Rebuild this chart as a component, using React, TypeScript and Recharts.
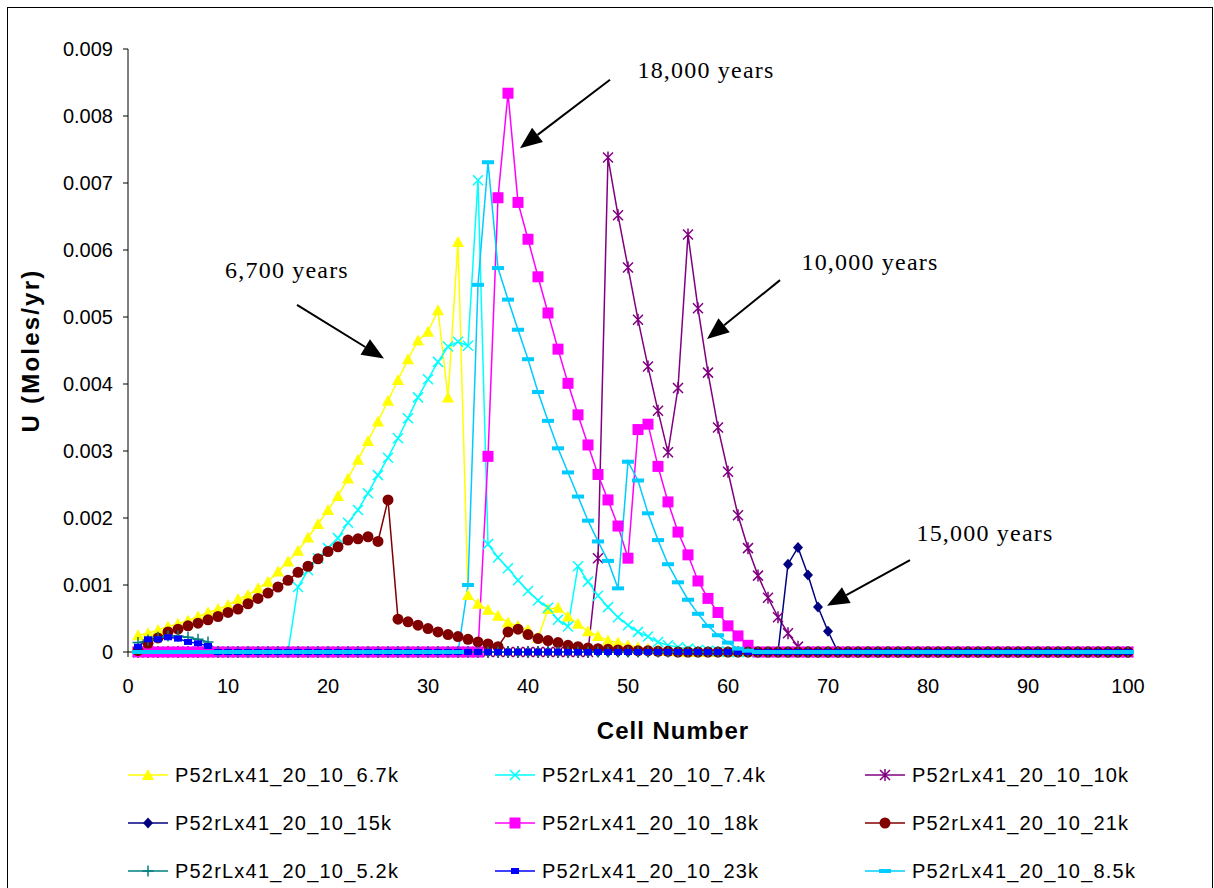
import React from "react";
import {
  LineChart,
  Line,
  XAxis,
  YAxis,
  Legend,
  ReferenceLine,
  ReferenceDot,
} from "recharts";

// cell numbers along the column
const cells = Array.from({ length: 100 }, (_, i) => i + 1);

const xTicks = [0, 10, 20, 30, 40, 50, 60, 70, 80, 90, 100];
const yTicks = [0, 0.001, 0.002, 0.003, 0.004, 0.005, 0.006, 0.007, 0.008, 0.009];

// U (Moles/yr) per cell
const u67k = [
  0.00025, 0.00028, 0.00033, 0.00038, 0.00042, 0.00047, 0.00053, 0.00059, 0.00064, 0.0007,
  0.00079, 0.00085, 0.00095, 0.00105, 0.0012, 0.00135, 0.00151, 0.00171, 0.00191, 0.00212,
  0.00233, 0.00259, 0.00287, 0.00315, 0.00344, 0.00375, 0.00406, 0.00437, 0.00465, 0.00478,
  0.0051, 0.0038, 0.00612, 0.00085, 0.00072, 0.00063, 0.00054, 0.00044, 0.00039, 0.00033,
  0.00021, 0.00064, 0.00066, 0.00053, 0.00042, 0.00031, 0.00024, 0.00017, 0.00014, 0.0001,
  0.00007, 0.00005, 0.00003, 0.00002, 0.00001, 0, 0, 0, 0, 0,
  0, 0, 0, 0, 0, 0, 0, 0, 0, 0,
  0, 0, 0, 0, 0, 0, 0, 0, 0, 0,
  0, 0, 0, 0, 0, 0, 0, 0, 0, 0,
  0, 0, 0, 0, 0, 0, 0, 0, 0, 0,
];

const u74k = [
  0, 0, 0, 0, 0, 0, 0, 0, 0, 0,
  0, 0, 0, 0, 0, 0, 0.00097, 0.00122, 0.0014, 0.00155,
  0.0017, 0.00193, 0.00212, 0.00237, 0.00264, 0.0029, 0.00319, 0.00349, 0.0038, 0.00407,
  0.00433, 0.00456, 0.00463, 0.00457, 0.00704, 0.00161, 0.00141, 0.00125, 0.00107, 0.00091,
  0.00077, 0.00066, 0.00048, 0.00038, 0.00128, 0.00105, 0.00084, 0.00067, 0.00052, 0.0004,
  0.0003, 0.00023, 0.00015, 0.0001, 0.00007, 0.00005, 0.00003, 0.00002, 0.00001, 0,
  0, 0, 0, 0, 0, 0, 0, 0, 0, 0,
  0, 0, 0, 0, 0, 0, 0, 0, 0, 0,
  0, 0, 0, 0, 0, 0, 0, 0, 0, 0,
  0, 0, 0, 0, 0, 0, 0, 0, 0, 0,
];

const u10k = [
  0, 0, 0, 0, 0, 0, 0, 0, 0, 0,
  0, 0, 0, 0, 0, 0, 0, 0, 0, 0,
  0, 0, 0, 0, 0, 0, 0, 0, 0, 0,
  0, 0, 0, 0, 0, 0, 0, 0, 0, 0,
  0, 0, 0, 0, 0, 0, 0.0014, 0.00738, 0.00652, 0.00574,
  0.00496, 0.00426, 0.0036, 0.00298, 0.00394, 0.00623, 0.00513, 0.00417, 0.00335, 0.00269,
  0.00204, 0.00155, 0.00114, 0.00081, 0.00052, 0.00028, 0.00008, 0, 0, 0,
  0, 0, 0, 0, 0, 0, 0, 0, 0, 0,
  0, 0, 0, 0, 0, 0, 0, 0, 0, 0,
  0, 0, 0, 0, 0, 0, 0, 0, 0, 0,
];

const u15k = [
  0, 0, 0, 0, 0, 0, 0, 0, 0, 0,
  0, 0, 0, 0, 0, 0, 0, 0, 0, 0,
  0, 0, 0, 0, 0, 0, 0, 0, 0, 0,
  0, 0, 0, 0, 0, 0, 0, 0, 0, 0,
  0, 0, 0, 0, 0, 0, 0, 0, 0, 0,
  0, 0, 0, 0, 0, 0, 0, 0, 0, 0,
  0, 0, 0, 0, 0, 0.00131, 0.00156, 0.00115, 0.00067, 0.00031,
  0, 0, 0, 0, 0, 0, 0, 0, 0, 0,
  0, 0, 0, 0, 0, 0, 0, 0, 0, 0,
  0, 0, 0, 0, 0, 0, 0, 0, 0, 0,
];

const u18k = [
  0, 0, 0, 0, 0, 0, 0, 0, 0, 0,
  0, 0, 0, 0, 0, 0, 0, 0, 0, 0,
  0, 0, 0, 0, 0, 0, 0, 0, 0, 0,
  0, 0, 0, 0, 0, 0.00292, 0.00678, 0.00834, 0.00671, 0.00616,
  0.0056, 0.00506, 0.00452, 0.00401, 0.00354, 0.00309, 0.00265, 0.00227, 0.00188, 0.0014,
  0.00332, 0.0034, 0.00277, 0.00224, 0.00179, 0.00145, 0.00106, 0.0008, 0.00059, 0.00039,
  0.00024, 0.0001, 0, 0, 0, 0, 0, 0, 0, 0,
  0, 0, 0, 0, 0, 0, 0, 0, 0, 0,
  0, 0, 0, 0, 0, 0, 0, 0, 0, 0,
  0, 0, 0, 0, 0, 0, 0, 0, 0, 0,
];

const u21k = [
  0.00002, 0.00013, 0.00021, 0.0003, 0.00034, 0.00039, 0.00043, 0.00048, 0.00053, 0.00059,
  0.00064, 0.00072, 0.0008, 0.00088, 0.00097, 0.00107, 0.00119, 0.00128, 0.00139, 0.0015,
  0.00157, 0.00167, 0.00169, 0.00172, 0.00165, 0.00227, 0.00049, 0.00045, 0.0004, 0.00035,
  0.0003, 0.00026, 0.00023, 0.00019, 0.00015, 0.00012, 0.00008, 0.0003, 0.00034, 0.00026,
  0.0002, 0.00017, 0.00014, 0.0001, 0.00008, 0.00006, 0.00005, 0.00004, 0.00003, 0.00003,
  0.00002, 0.00002, 0.00001, 0.00001, 0, 0, 0, 0, 0, 0,
  0, 0, 0, 0, 0, 0, 0, 0, 0, 0,
  0, 0, 0, 0, 0, 0, 0, 0, 0, 0,
  0, 0, 0, 0, 0, 0, 0, 0, 0, 0,
  0, 0, 0, 0, 0, 0, 0, 0, 0, 0,
];

const u52k = [
  0.00014, 0.00018, 0.00022, 0.00024, 0.00024, 0.00022, 0.00019, 0.00015, 0, 0,
  0, 0, 0, 0, 0, 0, 0, 0, 0, 0,
  0, 0, 0, 0, 0, 0, 0, 0, 0, 0,
  0, 0, 0, 0, 0, 0, 0, 0, 0, 0,
  0, 0, 0, 0, 0, 0, 0, 0, 0, 0,
  0, 0, 0, 0, 0, 0, 0, 0, 0, 0,
  0, 0, 0, 0, 0, 0, 0, 0, 0, 0,
  0, 0, 0, 0, 0, 0, 0, 0, 0, 0,
  0, 0, 0, 0, 0, 0, 0, 0, 0, 0,
  0, 0, 0, 0, 0, 0, 0, 0, 0, 0,
];

const u23k = [
  0.00008, 0.00019, 0.00019, 0.00022, 0.0002, 0.00015, 0.00013, 0.00009, 0, 0,
  0, 0, 0, 0, 0, 0, 0, 0, 0, 0,
  0, 0, 0, 0, 0, 0, 0, 0, 0, 0,
  0, 0, 0, 0, 0, 0, 0, 0, 0, 0,
  0, 0, 0, 0, 0, 0, 0, 0, 0, 0,
  0, 0, 0, 0, 0, 0, 0, 0, 0, 0,
  0, 0, 0, 0, 0, 0, 0, 0, 0, 0,
  0, 0, 0, 0, 0, 0, 0, 0, 0, 0,
  0, 0, 0, 0, 0, 0, 0, 0, 0, 0,
  0, 0, 0, 0, 0, 0, 0, 0, 0, 0,
];

const u85k = [
  0, 0, 0, 0, 0, 0, 0, 0, 0, 0,
  0, 0, 0, 0, 0, 0, 0, 0, 0, 0,
  0, 0, 0, 0, 0, 0, 0, 0, 0, 0,
  0, 0, 0, 0.001, 0.00548, 0.00731, 0.00573, 0.00526, 0.00481, 0.00437,
  0.00388, 0.00345, 0.00304, 0.00268, 0.00232, 0.00196, 0.00165, 0.00136, 0.00095, 0.00284,
  0.00256, 0.00207, 0.00167, 0.00131, 0.00104, 0.00078, 0.00057, 0.00039, 0.00025, 0.00014,
  0.00005, 0.00002, 0, 0, 0, 0, 0, 0, 0, 0,
  0, 0, 0, 0, 0, 0, 0, 0, 0, 0,
  0, 0, 0, 0, 0, 0, 0, 0, 0, 0,
  0, 0, 0, 0, 0, 0, 0, 0, 0, 0,
];

const series = [
  { key: "s67k", name: "P52rLx41_20_10_6.7k", values: u67k, color: "#FFFF00", shape: "triangle" },
  { key: "s74k", name: "P52rLx41_20_10_7.4k", values: u74k, color: "#00FFFF", shape: "x" },
  { key: "s10k", name: "P52rLx41_20_10_10k", values: u10k, color: "#800080", shape: "star" },
  { key: "s15k", name: "P52rLx41_20_10_15k", values: u15k, color: "#000080", shape: "diamond" },
  { key: "s18k", name: "P52rLx41_20_10_18k", values: u18k, color: "#FF00FF", shape: "square" },
  { key: "s21k", name: "P52rLx41_20_10_21k", values: u21k, color: "#800000", shape: "circle" },
  { key: "s52k", name: "P52rLx41_20_10_5.2k", values: u52k, color: "#008080", shape: "plus" },
  { key: "s23k", name: "P52rLx41_20_10_23k", values: u23k, color: "#0000FF", shape: "smallsquare" },
  { key: "s85k", name: "P52rLx41_20_10_8.5k", values: u85k, color: "#00CCFF", shape: "dash" },
];

// text callouts, in data units (cell, U)
const callouts = [
  { text: "6,700 years", at: [15.9, 0.0057], from: [16.9, 0.00518], to: [25.6, 0.00438] },
  { text: "18,000 years", at: [57.8, 0.00869], from: [48.2, 0.00854], to: [39.2, 0.00752] },
  { text: "10,000 years", at: [74.2, 0.00582], from: [65.2, 0.00555], to: [57.9, 0.00467] },
  { text: "15,000 years", at: [85.7, 0.00178], from: [78.2, 0.00137], to: [69.9, 0.00069] },
];

const data = cells.map((cell, i) => {
  const row: any = { cell };
  series.forEach((s) => {
    row[s.key] = s.values[i];
  });
  return row;
});

const Marker = ({ shape, x, y, color }) => {
  switch (shape) {
    case "triangle":
      return <polygon points={`${x},${y - 6} ${x + 6},${y + 5} ${x - 6},${y + 5}`} fill={color} />;
    case "x":
      return (
        <path
          d={`M${x - 5},${y - 5}L${x + 5},${y + 5}M${x - 5},${y + 5}L${x + 5},${y - 5}`}
          stroke={color}
          strokeWidth={1.5}
          fill="none"
        />
      );
    case "star":
      return (
        <path
          d={`M${x - 5},${y - 5}L${x + 5},${y + 5}M${x - 5},${y + 5}L${x + 5},${y - 5}M${x},${y - 6}L${x},${y + 6}`}
          stroke={color}
          strokeWidth={1.5}
          fill="none"
        />
      );
    case "diamond":
      return <polygon points={`${x},${y - 5.5} ${x + 5},${y} ${x},${y + 5.5} ${x - 5},${y}`} fill={color} />;
    case "square":
      return <rect x={x - 5.5} y={y - 5.5} width={11} height={11} fill={color} />;
    case "circle":
      return <circle cx={x} cy={y} r={5.5} fill={color} />;
    case "plus":
      return (
        <path
          d={`M${x - 5.5},${y}L${x + 5.5},${y}M${x},${y - 5.5}L${x},${y + 5.5}`}
          stroke={color}
          strokeWidth={1.5}
          fill="none"
        />
      );
    case "smallsquare":
      return <rect x={x - 4} y={y - 3} width={8} height={6} fill={color} />;
    case "dash":
      return <rect x={x - 6} y={y - 2} width={12} height={4} fill={color} />;
    default:
      return null;
  }
};

const Arrow = (props) => {
  const { x1, y1, x2, y2 } = props;
  const a = Math.atan2(y2 - y1, x2 - x1);
  const len = 22;
  const half = 9;
  const bx = x2 - len * Math.cos(a);
  const by = y2 - len * Math.sin(a);
  const px = -Math.sin(a) * half;
  const py = Math.cos(a) * half;
  return (
    <g>
      <line x1={x1} y1={y1} x2={bx} y2={by} stroke="#000" strokeWidth={2} />
      <polygon points={`${x2},${y2} ${bx + px},${by + py} ${bx - px},${by - py}`} fill="#000" />
    </g>
  );
};

const renderLegend = () => (
  <div
    style={{
      display: "grid",
      gridTemplateColumns: "367px 370px 370px",
      gridAutoRows: "48px",
      fontSize: 20,
      letterSpacing: 1.2,
      color: "#000",
    }}
  >
    {series.map((s) => (
      <div key={s.key} style={{ display: "flex", alignItems: "center" }}>
        <svg width={40} height={20} style={{ overflow: "visible" }}>
          <line x1={0} y1={10} x2={40} y2={10} stroke={s.color} strokeWidth={1.5} />
          <Marker shape={s.shape} x={20} y={10} color={s.color} />
        </svg>
        <span style={{ marginLeft: 7 }}>{s.name}</span>
      </div>
    ))}
  </div>
);

const fmt = (v) => (v === 0 ? "0" : v.toFixed(3));

export default function App() {
  return (
    <div
      style={{
        position: "absolute",
        left: 7,
        top: 7,
        width: 1206,
        height: 900,
        border: "1px solid #000",
        boxSizing: "border-box",
        background: "#fff",
        fontFamily: "'Liberation Sans', Arial, sans-serif",
      }}
    >
      <style>{`html, body { overflow: hidden; }`}</style>
      <LineChart
        width={1204}
        height={880}
        data={data}
        margin={{ top: 41, right: 84, left: 0, bottom: 176 }}
      >
        <XAxis
          dataKey="cell"
          type="number"
          domain={[0, 100]}
          ticks={xTicks}
          interval={0}
          height={60}
          stroke="#000"
          tickSize={5}
          tickMargin={22}
          tick={{ fill: "#000", fontSize: 20 }}
          label={{
            content: ({ viewBox }) => (
              <text
                x={665}
                y={viewBox.y + 78}
                textAnchor="middle"
                dominantBaseline="central"
                fontSize={24}
                fontWeight="bold"
                letterSpacing={1}
                fill="#000"
              >
                Cell Number
              </text>
            ),
          }}
        />
        <YAxis
          type="number"
          domain={[0, 0.009]}
          ticks={yTicks}
          interval={0}
          width={120}
          stroke="#000"
          tickSize={5}
          tickMargin={10}
          tickFormatter={fmt}
          tick={{ fill: "#000", fontSize: 20 }}
          label={{
            content: ({ viewBox }) => {
              const cx = viewBox.x + 22;
              const cy = viewBox.y + viewBox.height / 2;
              return (
                <text
                  x={cx}
                  y={cy}
                  transform={`rotate(-90 ${cx} ${cy})`}
                  textAnchor="middle"
                  dominantBaseline="central"
                  fontSize={24}
                  fontWeight="bold"
                  letterSpacing={2.2}
                  fill="#000"
                >
                  U (Moles/yr)
                </text>
              );
            },
          }}
        />
        <Legend
          verticalAlign="middle"
          align="center"
          layout="horizontal"
          wrapperStyle={{ left: 120, top: 743, width: 1110, height: 150 }}
          content={renderLegend}
        />
        {series.map((s) => (
          <Line
            key={s.key}
            dataKey={s.key}
            name={s.name}
            type="linear"
            stroke={s.color}
            strokeWidth={1.5}
            isAnimationActive={false}
            activeDot={false}
            dot={(p) => (
              <Marker key={`${s.key}-${p.index}`} shape={s.shape} x={p.cx} y={p.cy} color={s.color} />
            )}
          />
        ))}
        {callouts.map((c) => (
          <ReferenceLine
            key={`arrow-${c.text}`}
            segment={[
              { x: c.from[0], y: c.from[1] },
              { x: c.to[0], y: c.to[1] },
            ]}
            ifOverflow="visible"
            shape={Arrow}
          />
        ))}
        {callouts.map((c) => (
          <ReferenceDot
            key={`label-${c.text}`}
            x={c.at[0]}
            y={c.at[1]}
            ifOverflow="visible"
            shape={(p) => (
              <text
                x={p.cx}
                y={p.cy}
                textAnchor="middle"
                dominantBaseline="central"
                fontFamily="'Liberation Serif', 'Times New Roman', serif"
                fontSize={24}
                letterSpacing={1.2}
                fill="#000"
              >
                {c.text}
              </text>
            )}
          />
        ))}
      </LineChart>
    </div>
  );
}
